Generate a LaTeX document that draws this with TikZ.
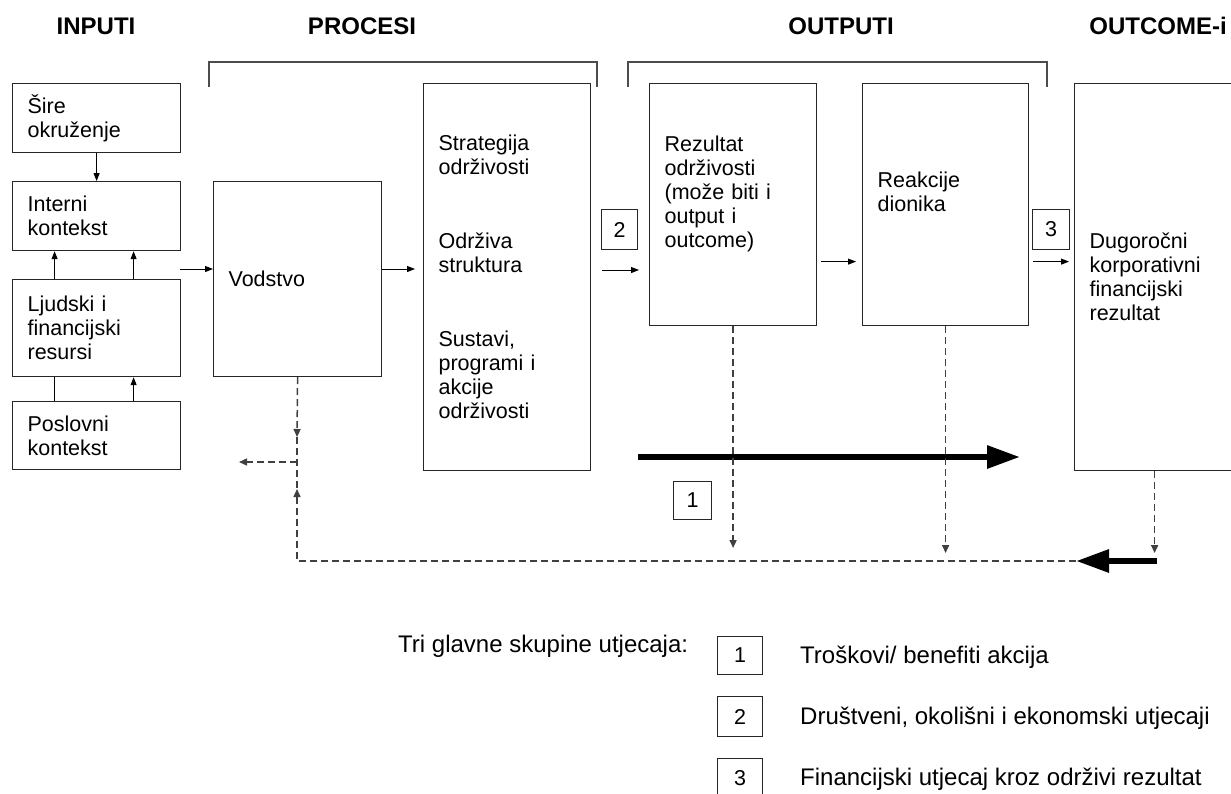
\documentclass[tikz,border=0pt]{standalone}
\usepackage{fontspec}
\setmainfont{Liberation Sans}
\usetikzlibrary{arrows.meta}

\begin{document}
\begin{tikzpicture}[x=1pt, y=-1pt,
    box/.style={draw=black!85, line width=1.2pt, anchor=north west,
        align=left, inner xsep=15pt, inner ysep=0pt,
        font=\fontsize{21.5}{24}\selectfont},
    hd/.style={font=\fontsize{24}{28}\selectfont\bfseries},
    num/.style={draw=black!85, line width=1.1pt, anchor=north west,
        inner sep=0pt, font=\fontsize{21.5}{24}\selectfont},
    leg/.style={anchor=base west, inner sep=0pt,
        font=\fontsize{24}{28}\selectfont},
    brk/.style={draw=black!70, line width=1.3pt},
    ar/.style={line width=1pt, -{Triangle[length=8pt,width=6pt]}},
    dsh/.style={draw=black!75, line width=1.5pt, dash pattern=on 7pt off 4pt},
    da/.style={-{Triangle[length=8pt,width=7pt]}},
    fat/.style={line width=6pt, -{Triangle[length=33pt,width=22pt]}}]
    \clip (0,0) rectangle (1231,793);

    \node[hd] (hin) at (96,26) {INPUTI};
    \node[hd] (hpro) at (362,26) {PROCESI};
    \node[hd] (hout) at (841,26) {OUTPUTI};
    \node[hd] (hoc) at (1158,26) {OUTCOME-i};
    \draw[brk] (209,87) -- (209,62) -- (597,62) -- (597,87);
    \draw[brk] (628,87) -- (628,62) -- (1047,62) -- (1047,87);

    \node[box, minimum width=168, minimum height=69, text width=138]
        (sire) at (12,83) {Šire\\okruženje};
    \node[box, minimum width=168, minimum height=69, text width=138]
        (interni) at (12,181) {Interni\\kontekst};
    \node[box, minimum width=168, minimum height=97, text width=138]
        (ljudski) at (12,279) {Ljudski i\\financijski\\resursi};
    \node[box, minimum width=168, minimum height=68, text width=138]
        (poslovni) at (12,401) {Poslovni\\kontekst};
    \node[box, minimum width=168, minimum height=195, text width=138]
        (vodstvo) at (213,181) {Vodstvo};
    \node[box, minimum width=167, minimum height=387, text width=137]
        (strat) at (423,83) {Strategija\\održivosti\\[50pt]Održiva\\struktura\\[50pt]Sustavi,\\programi i\\akcije\\održivosti};
    \node[box, minimum width=167, minimum height=242, text width=137, text depth=121pt]
        (rez) at (649,83) {Rezultat\\održivosti\\(može biti i\\output i\\outcome)};
    \node[box, minimum width=166, minimum height=242, text width=136, text depth=49pt]
        (reak) at (862,83) {Reakcije\\dionika};
    \node[box, minimum width=160, minimum height=387, text width=130]
        (outc) at (1074,83) {Dugoročni\\korporativni\\financijski\\rezultat};

    \node[num, minimum width=36, minimum height=40] (n2) at (601,209) {2};
    \node[num, minimum width=37, minimum height=40] (n3) at (1032,209) {3};
    \node[num, minimum width=38, minimum height=38] (n1) at (673,481) {1};

    \draw[ar] (sire) -- (interni);
    \draw[ar] ([xshift=-42pt]ljudski.north) -- ([xshift=-42pt]interni.south);
    \draw[ar] ([xshift=37pt]ljudski.north) -- ([xshift=37pt]interni.south);
    \draw[line width=1pt] ([xshift=-42pt]poslovni.north) -- ([xshift=-42pt]ljudski.south);
    \draw[ar] ([xshift=37pt]poslovni.north) -- ([xshift=37pt]ljudski.south);

    \coordinate (inp) at (180,269);
    \coordinate (c2) at (602,270);
    \draw[ar] (inp) -- (vodstvo.west |- inp);
    \draw[ar, shorten >=8pt] (vodstvo.east |- inp) -- (strat.west |- inp);
    \draw[ar, shorten >=10pt] (c2) -- (rez.west |- c2);
    \draw[ar, shorten <=4pt, shorten >=6pt] ([yshift=-57pt]rez.east) -- ([yshift=-57pt]rez.east -| reak.west);
    \draw[ar, shorten <=4pt, shorten >=5pt] ([yshift=-57pt]reak.east) -- ([yshift=-57pt]reak.east -| outc.west);

    \coordinate (ts) at (638,457);
    \coordinate (te) at (1020,457);
    \draw[fat] (ts) -- (te);

    \coordinate (dn) at (297,437);
    \coordinate (up) at (297,489);
    \coordinate (br) at (297,462);
    \coordinate (brl) at (239,462);
    \coordinate (fb) at (297,561);
    \coordinate (fe) at (1076,561);
    \coordinate (bs) at (1157,561);
    \draw[dsh, da] (vodstvo.south) -- (dn);
    \draw[dsh] (dn) -- (up);
    \draw[dsh, da] (br) -- (brl);
    \draw[dsh, da] (fe) -- (fb) -- (up);
    \draw[dsh, da] (rez.south) -- (rez.south |- 0,548);
    \draw[dsh, da] (reak.south) -- (reak.south |- 0,553);
    \draw[dsh, da] (outc.south) -- (outc.south |- 0,553);
    \draw[fat] (bs) -- (fe);

    \node[leg] (leg0) at (398,652) {Tri glavne skupine utjecaja:};
    \node[num, minimum width=45, minimum height=38] (l1) at (717,636) {1};
    \node[num, minimum width=45, minimum height=40] (l2) at (717,696) {2};
    \node[num, minimum width=45, minimum height=40] (l3) at (717,758) {3};
    \node[leg] (t1) at (800,663) {Troškovi/ benefiti akcija};
    \node[leg] (t2) at (800,724) {Društveni, okolišni i ekonomski utjecaji};
    \node[leg] (t3) at (800,785) {Financijski utjecaj kroz održivi rezultat};
\end{tikzpicture}
\end{document}
